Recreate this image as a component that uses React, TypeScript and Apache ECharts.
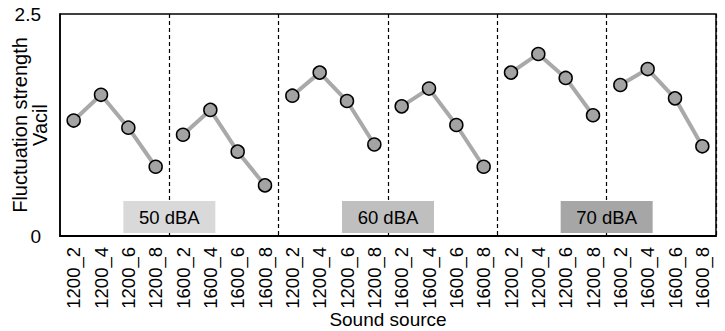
import React, { useEffect, useRef } from 'react';
import * as echarts from 'echarts';

const soundSources = ['1200_2', '1200_4', '1200_6', '1200_8', '1600_2', '1600_4', '1600_6', '1600_8'];
const categories = [...soundSources, ...soundSources, ...soundSources];
const levelLabels = ['50 dBA', '60 dBA', '70 dBA'];
const fs50 = [1.3, 1.59, 1.22, 0.78, 1.14, 1.42, 0.95, 0.57];
const fs60 = [1.58, 1.84, 1.52, 1.03, 1.46, 1.66, 1.25, 0.78];
const fs70 = [1.84, 2.05, 1.78, 1.36, 1.7, 1.88, 1.55, 1.01];
const levelValues = [fs50, fs60, fs70];
const boxColors = ['#d9d9d9', '#bfbfbf', '#a6a6a6'];

const FONT = 'Liberation Sans, Arial, sans-serif';

export default function App() {
  const ref = useRef<HTMLDivElement>(null);
  useEffect(() => {
    const chart = echarts.init(ref.current!, null, { renderer: 'svg' });
    const series: any[] = [];
    levelValues.forEach((vals, li) => {
      for (let g = 0; g < 2; g++) {
        const data: any[] = categories.map(() => '-');
        for (let k = 0; k < 4; k++) data[li * 8 + g * 4 + k] = vals[g * 4 + k];
        series.push({
          type: 'line',
          data,
          symbol: 'circle',
          symbolSize: 13,
          lineStyle: { color: '#a9a9a9', width: 4 },
          itemStyle: { color: '#a3a3a3', borderColor: '#000', borderWidth: 1.5 },
          z: 3,
        });
      }
    });
    chart.setOption({
      animation: false,
      grid: {
        left: 60,
        right: 9,
        top: 14,
        bottom: 95,
        show: true,
        borderColor: '#000',
        borderWidth: 1.5,
        containLabel: false,
        outerBoundsMode: 'none',
      },
      xAxis: {
        type: 'category',
        data: categories,
        boundaryGap: true,
        name: 'Sound source',
        nameLocation: 'middle',
        nameGap: 74,
        nameMoveOverlap: false,
        nameTextStyle: { fontFamily: FONT, fontSize: 19, color: '#000' },
        axisLine: { lineStyle: { color: '#000', width: 2 } },
        axisTick: { show: false },
        axisLabel: {
          rotate: 90,
          interval: 0,
          margin: 11,
          fontFamily: FONT,
          fontSize: 18.5,
          color: '#000',
        },
        splitLine: {
          show: true,
          interval: (index: number) => index > 0 && index < 24 && index % 4 === 0,
          lineStyle: { color: '#000', type: [4, 3], width: 1.2 },
        },
      },
      yAxis: {
        type: 'value',
        min: 0,
        max: 2.5,
        interval: 2.5,
        name: 'Fluctuation strength\nVacil',
        nameLocation: 'middle',
        nameRotate: 90,
        nameGap: 10,
        nameMoveOverlap: false,
        nameTextStyle: { fontFamily: FONT, fontSize: 20, color: '#000', lineHeight: 20 },
        axisLine: { show: true, lineStyle: { color: '#000', width: 1.5 } },
        axisTick: { show: false },
        splitLine: { show: false },
        axisLabel: { margin: 19, fontFamily: FONT, fontSize: 19, color: '#000' },
      },
      series,
    });
    const y0 = chart.convertToPixel({ yAxisIndex: 0 }, 0) as number;
    const graphics = levelLabels.map((label, li) => {
      const b = li * 8 + 4;
      const xa = chart.convertToPixel({ xAxisIndex: 0 }, b - 1) as number;
      const xb = chart.convertToPixel({ xAxisIndex: 0 }, b) as number;
      const cx = (xa + xb) / 2;
      return {
        type: 'group',
        x: cx,
        y: y0,
        z: 10,
        children: [
          {
            type: 'rect',
            z: 10,
            shape: { x: -46, y: -35, width: 92, height: 32 },
            style: { fill: boxColors[li] },
          },
          {
            type: 'text',
            z: 11,
            style: {
              text: label,
              x: 0,
              y: -19,
              align: 'center',
              verticalAlign: 'middle',
              font: `18.5px ${FONT}`,
              fill: '#000',
            },
          },
        ],
      };
    });
    chart.setOption({ graphic: graphics });
    return () => chart.dispose();
  }, []);
  return <div ref={ref} style={{ width: 725, height: 331, position: 'absolute', left: 0, top: 0 }} />;
}
